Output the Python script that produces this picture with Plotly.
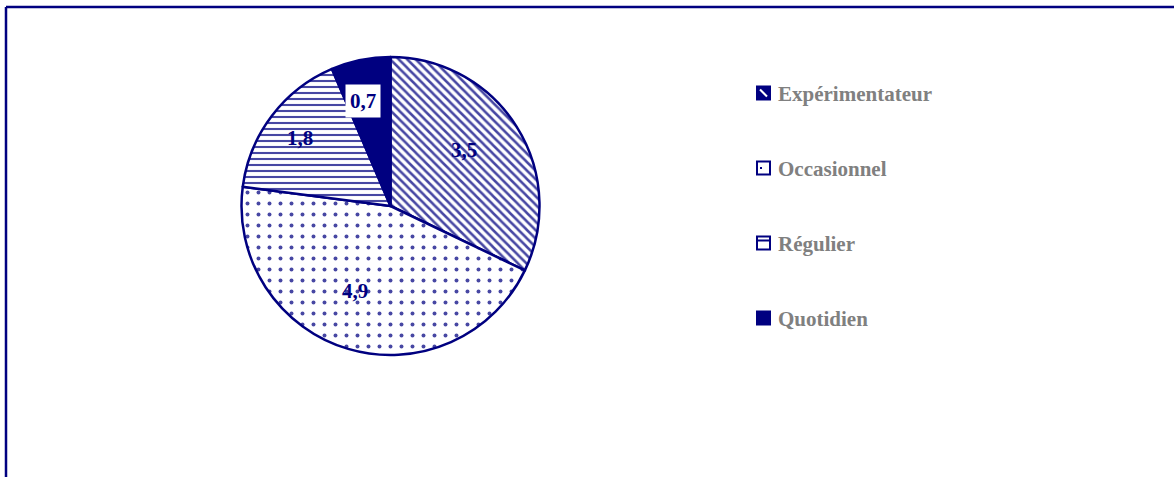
import math
import plotly.graph_objects as go

# Data
categories = ["Expérimentateur", "Occasionnel", "Régulier", "Quotidien"]
values = [3.5, 4.9, 1.8, 0.7]
value_labels = ["3,5", "4,9", "1,8", "0,7"]

# Figure geometry (pixels)
W, H = 1174, 477
CX, CY, R = 390.5, 206.0, 149.0
NAVY = "#000080"
GRAY = "#808080"
SERIF = "Liberation Serif, Times New Roman, serif"

# Slice fill patterns
pattern_shapes = ["\\", ".", "-", ""]
pattern_sizes = [6, 11, 6, 6]
pattern_solidity = [0.42, 0.1, 0.35, 0.3]
slice_colors = ["white", "white", "white", NAVY]

# Label placement (radius fraction, angular nudge in degrees)
label_radius = [0.62, 0.62, 0.76, 0.73]
label_nudge = [-5, 6, 0, -3]
label_boxed = [False, False, False, True]


def px(x):
    return x / W


def py(y):
    return 1 - y / H


fig = go.Figure()
fig.add_trace(go.Pie(
    labels=categories,
    values=values,
    sort=False,
    direction="clockwise",
    rotation=0,
    textinfo="none",
    hoverinfo="label+value",
    showlegend=False,
    domain=dict(x=[px(CX - R), px(CX + R)], y=[py(CY + R), py(CY - R)]),
    marker=dict(
        colors=slice_colors,
        line=dict(color=NAVY, width=2.5),
        pattern=dict(
            shape=pattern_shapes,
            size=pattern_sizes,
            solidity=pattern_solidity,
            fgcolor=NAVY,
            fgopacity=0.72,
            bgcolor="white",
        ),
    ),
))

annotations = []
shapes = []

# Value labels positioned from each slice's mid-angle
total = sum(values)
cum = 0.0
for v, txt, rf, nd, boxed in zip(values, value_labels, label_radius, label_nudge, label_boxed):
    mid = (cum + v / 2) / total * 360 + nd
    cum += v
    a = math.radians(mid)
    lx = CX + rf * R * math.sin(a)
    ly = CY - rf * R * math.cos(a)
    annotations.append(dict(
        x=px(lx), y=py(ly), xref="paper", yref="paper",
        text=f"<b>{txt}</b>", showarrow=False,
        font=dict(family=SERIF, size=21, color=NAVY),
        bgcolor="white" if boxed else "rgba(0,0,0,0)",
        borderpad=4 if boxed else 0,
        xanchor="center", yanchor="middle",
    ))

# Legend drawn with swatches and text
LEG_X = 757
LEG_Y0 = 93
LEG_DY = 75
SW = 13
for i, name in enumerate(categories):
    yc = LEG_Y0 + i * LEG_DY
    x0, x1 = LEG_X, LEG_X + SW
    y0, y1 = yc - SW / 2, yc + SW / 2
    fill = NAVY if i in (0, 3) else "white"
    shapes.append(dict(type="rect", xref="paper", yref="paper",
                       x0=px(x0), x1=px(x1), y0=py(y1), y1=py(y0),
                       line=dict(color=NAVY, width=2), fillcolor=fill))
    if i == 0:
        shapes.append(dict(type="line", xref="paper", yref="paper",
                           x0=px(x0 + 3), y0=py(y0 + 3), x1=px(x1 - 3), y1=py(y1 - 3),
                           line=dict(color="white", width=2)))
    elif i == 1:
        shapes.append(dict(type="rect", xref="paper", yref="paper",
                           x0=px(x0 + 3), x1=px(x0 + 5), y0=py(yc + 1), y1=py(yc - 1),
                           line=dict(width=0), fillcolor=NAVY))
    elif i == 2:
        shapes.append(dict(type="line", xref="paper", yref="paper",
                           x0=px(x0), y0=py(y0 + 4), x1=px(x1), y1=py(y0 + 4),
                           line=dict(color=NAVY, width=2)))
    annotations.append(dict(
        x=px(x1 + 6), y=py(yc + 1), xref="paper", yref="paper",
        text=f"<b>{name}</b>", showarrow=False,
        font=dict(family=SERIF, size=21, color=GRAY),
        xanchor="left", yanchor="middle",
    ))

# Chart area frame (top and left edges visible)
shapes.append(dict(type="line", xref="paper", yref="paper",
                   x0=px(6), y0=py(7), x1=px(W + 10), y1=py(7),
                   line=dict(color=NAVY, width=2.5)))
shapes.append(dict(type="line", xref="paper", yref="paper",
                   x0=px(6), y0=py(7), x1=px(6), y1=py(H + 10),
                   line=dict(color=NAVY, width=2.5)))

fig.update_layout(
    width=W, height=H,
    margin=dict(l=0, r=0, t=0, b=0),
    paper_bgcolor="white",
    plot_bgcolor="white",
    annotations=annotations,
    shapes=shapes,
)

fig.write_html("out.html", include_plotlyjs=True, config={"displayModeBar": False})
